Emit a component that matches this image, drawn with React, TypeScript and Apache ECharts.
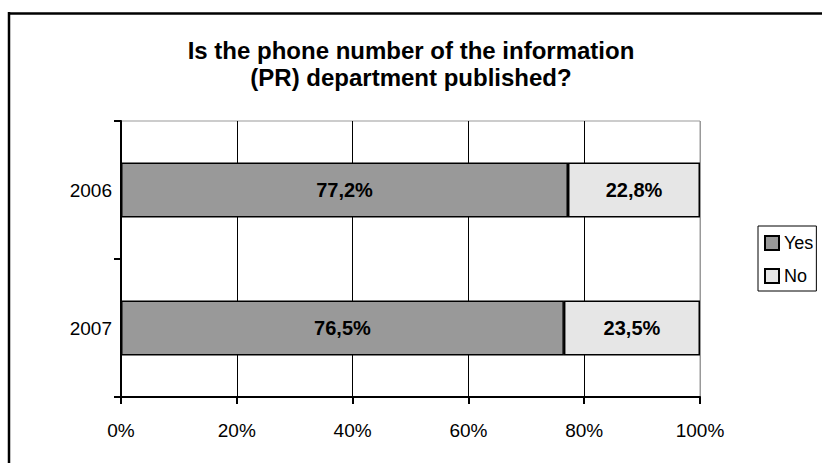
import React, { useEffect, useRef } from "react";
import * as echarts from "echarts";

const categories = ["2006", "2007"];
const yesValues = [77.2, 76.5];
const noValues = [22.8, 23.5];
const seriesNames = ["Yes", "No"];
const titleText = "Is the phone number of the information\n(PR) department published?";

const fmt = (v: number) => v.toFixed(1).replace(".", ",") + "%";

export default function App() {
  const ref = useRef<HTMLDivElement>(null);
  useEffect(() => {
    document.body.style.margin = "0";
    const chart = echarts.init(ref.current!, null, { renderer: "svg" });
    const font = "Liberation Sans, Arial, sans-serif";
    chart.setOption({
      animation: false,
      backgroundColor: "#fff",
      textStyle: { fontFamily: font },
      title: {
        text: titleText,
        left: "center",
        top: 37,
        padding: 0,
        textStyle: { fontSize: 24, fontWeight: "bold", color: "#000", lineHeight: 27, fontFamily: font },
      },
      legend: {
        orient: "vertical",
        left: 758,
        top: 226,
        padding: [8, 3, 6, 6],
        borderColor: "#000",
        borderWidth: 1,
        itemWidth: 14,
        itemHeight: 14,
        itemGap: 15,
        icon: "rect",
        textStyle: { fontSize: 18, color: "#000", fontFamily: font },
        data: seriesNames,
      },
      grid: {
        left: 121,
        right: 122,
        top: 121,
        bottom: 66,
        show: true,
        borderColor: "#999",
        borderWidth: 1,
        backgroundColor: "transparent",
      },
      xAxis: {
        type: "value",
        min: 0,
        max: 100,
        interval: 20,
        axisLine: { show: true, lineStyle: { color: "#000", width: 2 } },
        axisTick: { show: true, length: 7, lineStyle: { color: "#000", width: 2 } },
        axisLabel: { fontSize: 19, color: "#000", margin: 24, formatter: (v: number) => v + "%", fontFamily: font },
        splitLine: {
          show: true,
          lineStyle: { color: ["#999", "#000", "#000", "#000", "#000", "#999"], width: 1 },
        },
      },
      yAxis: {
        type: "category",
        inverse: true,
        data: categories,
        axisLine: { show: true, lineStyle: { color: "#000", width: 2 } },
        axisTick: { show: true, length: 7, alignWithLabel: false, lineStyle: { color: "#000", width: 2 } },
        axisLabel: { fontSize: 19, color: "#000", margin: 9, fontFamily: font },
        splitLine: { show: false },
      },
      series: [
        {
          name: seriesNames[0],
          type: "bar",
          stack: "total",
          barWidth: "40%",
          data: yesValues,
          itemStyle: { color: "#999999", borderColor: "#000", borderWidth: 1.5 },
          label: {
            show: true,
            position: "inside",
            fontSize: 20,
            fontWeight: "bold",
            color: "#000",
            fontFamily: font,
            formatter: (p: any) => fmt(p.value),
          },
        },
        {
          name: seriesNames[1],
          type: "bar",
          stack: "total",
          barWidth: "40%",
          data: noValues,
          itemStyle: { color: "#e6e6e6", borderColor: "#000", borderWidth: 1.5 },
          label: {
            show: true,
            position: "inside",
            fontSize: 20,
            fontWeight: "bold",
            color: "#000",
            fontFamily: font,
            formatter: (p: any) => fmt(p.value),
          },
        },
      ],
      graphic: [
        { type: "line", shape: { x1: 8, y1: 13.5, x2: 822, y2: 13.5 }, style: { stroke: "#000", lineWidth: 2.5 } },
        { type: "line", shape: { x1: 9, y1: 12, x2: 9, y2: 463 }, style: { stroke: "#000", lineWidth: 2.5 } },
      ],
    });
    return () => chart.dispose();
  }, []);
  return <div ref={ref} style={{ width: 822, height: 463 }} />;
}
